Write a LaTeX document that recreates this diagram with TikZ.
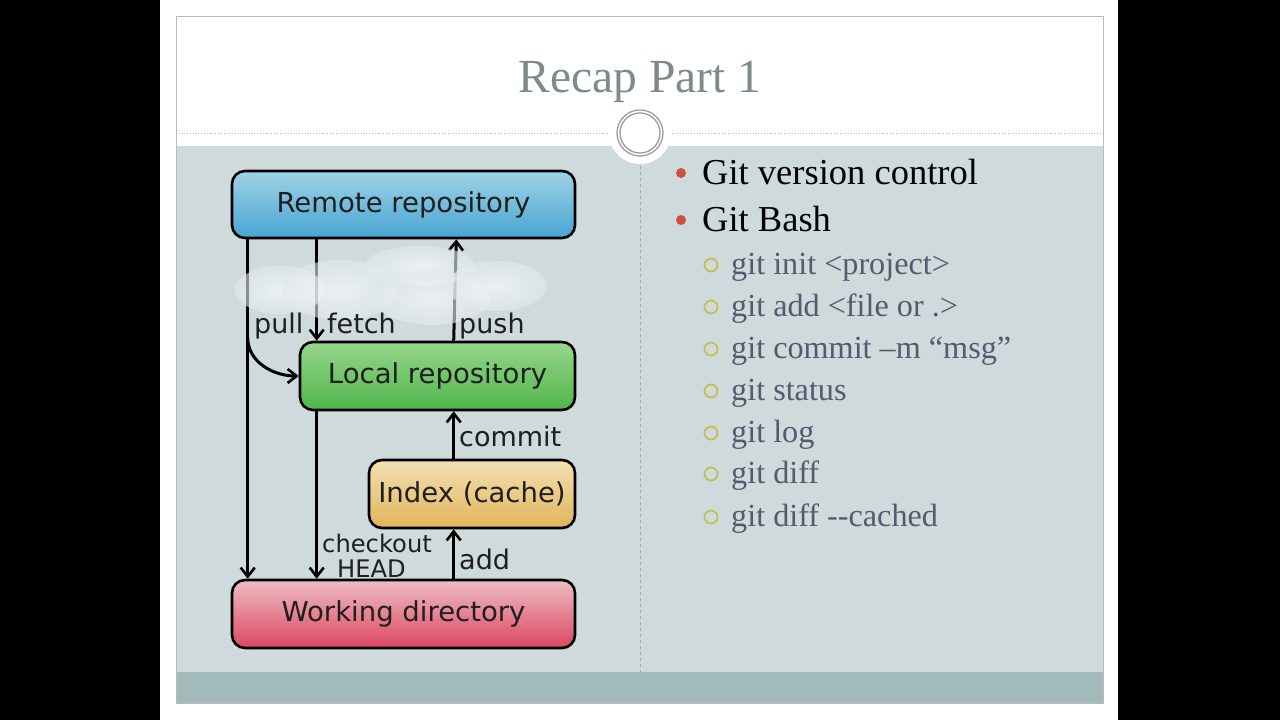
\documentclass[tikz,border=0pt]{standalone}
\usepackage{fontspec}
\setmainfont{Liberation Serif}
\newfontfamily\dv{DejaVu Sans}
\usetikzlibrary{arrows.meta,calc}
\definecolor{contentbg}{RGB}{207,218,221}
\definecolor{bandbg}{RGB}{161,187,187}
\definecolor{titlecol}{RGB}{125,140,135}
\definecolor{subcol}{RGB}{82,92,112}
\definecolor{redbul}{RGB}{205,80,65}
\definecolor{olivebul}{RGB}{195,190,90}
\definecolor{ringcol}{RGB}{150,160,158}
\tikzset{
  repobox/.style={draw=black, line width=2.6pt, rounded corners=13pt, font=\dv\fontsize{27.5}{29}\selectfont, text=black!88},
  arr/.style={line width=3pt, -{Straight Barb[length=9pt,width=14pt,line width=2.6pt]}},
  lbl/.style={font=\dv\fontsize{27}{27}\selectfont, text=black!88, inner sep=0pt, anchor=base west},
  smalllbl/.style={lbl, font=\dv\fontsize{24.2}{25}\selectfont},
  mainitem/.style={font=\fontsize{36.5}{38}\selectfont, text=black, inner sep=0pt, anchor=base west},
  subitem/.style={font=\fontsize{32.2}{34}\selectfont, text=subcol, inner sep=0pt, anchor=base west},
}
\begin{document}
\begin{tikzpicture}[x=1pt,y=-1pt]
\useasboundingbox (0,0) rectangle (1280,720);
% background
\fill[black] (0,0) rectangle (1280,720);
\fill[white] (160,0) rectangle (1118,720);
\fill[contentbg] (176,146) rectangle (1103,672);
\fill[bandbg] (176,672) rectangle (1103,703);
\draw[gray!55, line width=0.8pt] (176,16) rectangle (1103,703);
% title
\node[font=\fontsize{47.5}{50}\selectfont, text=titlecol] (title) at (640,82) {Recap Part 1};
% separator
\draw[gray!60, dotted, line width=0.8pt] (176,133) -- (1103,133);
\fill[white] (640,133) circle [radius=31pt];
\draw[ringcol, line width=1.3pt] (640,133) circle [radius=23pt];
\draw[ringcol, line width=1.3pt] (640,133) circle [radius=20pt];
\draw[gray!70, dashed, line width=0.6pt] (640,166) -- (640,672);
% boxes
\node[repobox, minimum width=343pt, minimum height=67pt, top color={rgb,255:red,160;green,210;blue,230}, bottom color={rgb,255:red,72;green,165;blue,210}] (remote) at (403.5,204.5) {Remote repository};
\node[repobox, minimum width=275pt, minimum height=68pt, top color={rgb,255:red,150;green,215;blue,140}, bottom color={rgb,255:red,80;green,180;blue,75}] (local) at (437.5,376) {Local repository};
\node[repobox, minimum width=206pt, minimum height=68pt, top color={rgb,255:red,242;green,225;blue,180}, bottom color={rgb,255:red,225;green,180;blue,90}] (index) at (472,494) {Index (cache)};
\node[repobox, minimum width=343pt, minimum height=68pt, top color={rgb,255:red,238;green,190;blue,198}, bottom color={rgb,255:red,220;green,70;blue,95}] (working) at (403.5,614) {Working directory};
% arrows
\draw[arr] ([xshift=17pt]remote.south west) -- ([xshift=17pt]working.north west);
\coordinate (pullbr) at ([xshift=17pt,yshift=-98pt]remote.south west);
\draw[arr] (pullbr) to[out=-90,in=180] (local.west);
\draw[arr] ([xshift=86pt]remote.south west) -- ([xshift=18pt]local.north west);
\draw[arr] ([xshift=155pt]local.north west) -- ([xshift=-120pt]remote.south east);
\draw[arr] ([xshift=18pt]local.south west) -- ([xshift=86pt]working.north west);
\draw[arr] ([xshift=86pt]index.north west) -- ([xshift=155pt]local.south west);
\draw[arr] ([xshift=223pt]working.north west) -- ([xshift=86pt]index.south west);
% cloud
\foreach \cx/\cy/\rx/\ry in {280/290/45/24, 340/290/58/30, 420/266/55/20, 432/298/58/27, 497/286/50/25}
  \shade[inner color=white, outer color=contentbg!60!white, opacity=0.6] (\cx,\cy) ellipse [x radius=\rx pt, y radius=\ry pt];
% labels
\node[lbl] (lpull) at (254,333) {pull};
\node[lbl] (lfetch) at (327,333) {fetch};
\node[lbl] (lpush) at (459,333) {push};
\node[lbl] (lcommit) at (459,446) {commit};
\node[smalllbl] (lcheckout) at (322,552) {checkout};
\node[smalllbl] (lhead) at (337,577) {HEAD};
\node[lbl] (ladd) at (459,569) {add};
% bullets
\fill[redbul] (681,173) circle [radius=5pt];
\node[mainitem] (m1) at (702,184) {Git version control};
\fill[redbul] (681,220) circle [radius=5pt];
\node[mainitem] (m2) at (702,231) {Git Bash};
\foreach \yy/\txt in {265/{git init <project>}, 307/{git add <file or .>}, 349/{git commit –m “msg”}, 391/{git status}, 433/{git log}, 474/{git diff}, 517/{git diff -{}-cached}}{
  \draw[olivebul, line width=1.8pt] (711,\yy) circle [radius=6.5pt];
  \node[subitem] at (731,\yy+9) {\txt};
}
\end{tikzpicture}
\end{document}
